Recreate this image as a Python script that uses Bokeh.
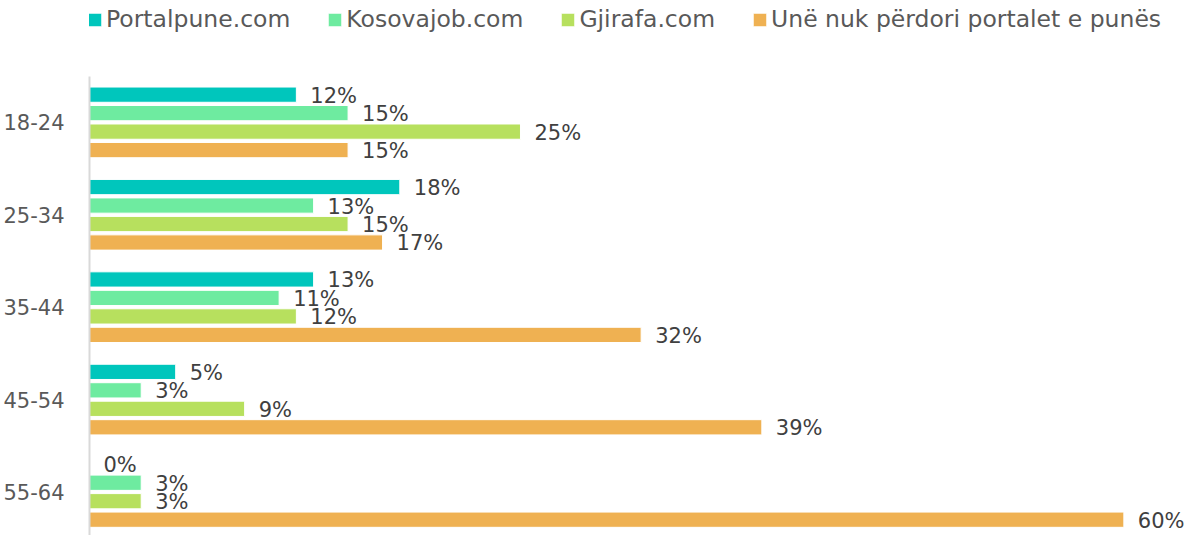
from bokeh.plotting import figure
from bokeh.models import ColumnDataSource, Legend, LegendItem, Range1d, FixedTicker
from bokeh.core.properties import value
from bokeh.embed import file_html
from bokeh.resources import INLINE

categories = ["18-24", "25-34", "35-44", "45-54", "55-64"]
series_names = ["Portalpune.com", "Kosovajob.com", "Gjirafa.com", "Unë nuk përdori portalet e punës"]
portalpune = [12, 18, 13, 5, 0]
kosovajob = [15, 13, 11, 3, 3]
gjirafa = [25, 15, 12, 9, 3]
nuk_perdori = [15, 17, 32, 39, 60]
colors = ["#00C6BC", "#6EEBA0", "#B7E05E", "#EFB152"]

FONT = "DejaVu Sans"
series_values = [portalpune, kosovajob, gjirafa, nuk_perdori]
offsets = [0.3, 0.1, -0.1, -0.3]
n = len(categories)
ypos = [n - 1 - i for i in range(n)]

p = figure(width=1193, height=535, output_backend="svg", toolbar_location=None,
           y_range=Range1d(-0.471, 5.319), x_range=Range1d(0, 64.04), x_axis_location=None,
           min_border_left=89, min_border_right=0, min_border_top=0, min_border_bottom=0)
p.outline_line_color = None
p.grid.visible = False

items = []
for name, vals, col, off in zip(series_names, series_values, colors, offsets):
    src = ColumnDataSource(dict(y=[yp + off for yp in ypos], v=vals, lab=[f"{v}%" for v in vals]))
    r = p.hbar(y="y", right="v", left=0, height=0.165,
               source=src, fill_color=col, line_color="white", line_width=1)
    p.text(x="v", y="y", text="lab", source=src,
           x_offset=14, y_offset=1, text_baseline="middle", text_align="left",
           text_font=value(FONT), text_font_size="21px", text_color="#404040")
    items.append(LegendItem(label=name, renderers=[r]))

yax = p.yaxis[0]
yax.ticker = FixedTicker(ticks=ypos)
yax.major_label_overrides = {yp: c for yp, c in zip(ypos, categories)}
yax.bounds = (-0.5, n - 0.5)
yax.axis_line_color = "#D9D9D9"
yax.axis_line_width = 2
yax.major_tick_line_color = None
yax.minor_tick_line_color = None
yax.major_label_text_font = FONT
yax.major_label_text_font_size = "21px"
yax.major_label_text_color = "#595959"
yax.major_label_standoff = 19

legend = Legend(items=items, orientation="horizontal", location=(-3, 502),
                label_text_font=FONT, label_text_font_size="23.5px", label_text_color="#595959",
                glyph_width=17, glyph_height=17, spacing=36, label_standoff=3,
                border_line_color=None, background_fill_alpha=0, padding=0, margin=0)
p.add_layout(legend, "center")

open("out.html", "w").write(file_html(p, INLINE))
